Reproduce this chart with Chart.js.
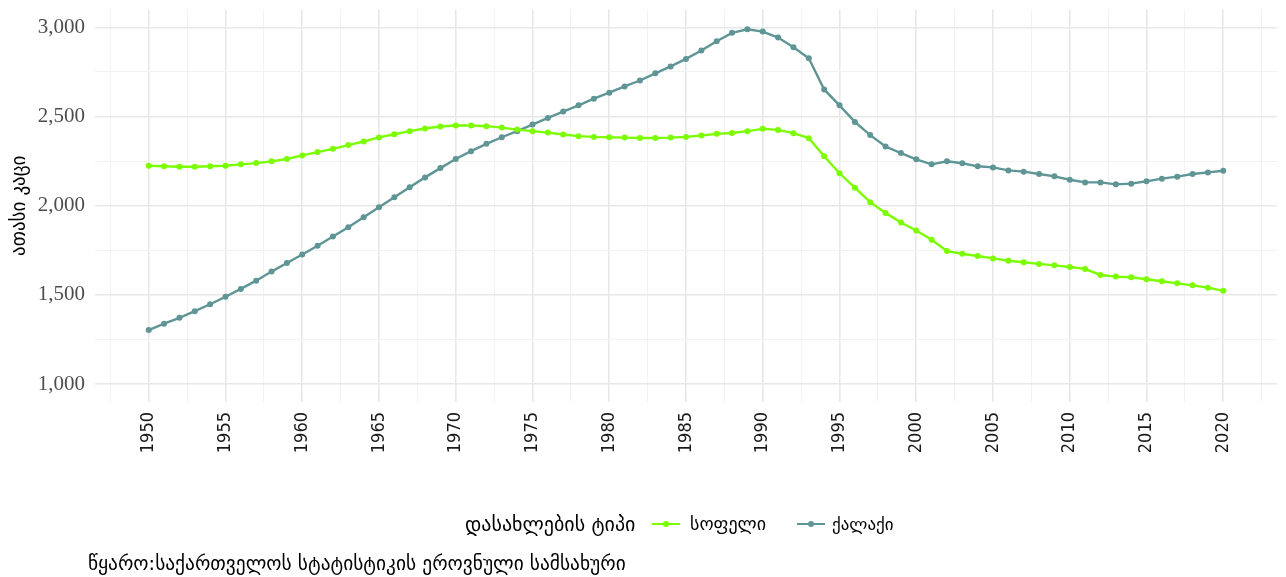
<!DOCTYPE html>
<html>
<head>
<meta charset="utf-8">
<script src="https://cdn.jsdelivr.net/npm/chart.js@4"></script>
<style>
body{margin:0;background:#fff;}
#wrap{position:relative;width:1286px;height:577px;}
.lg{position:absolute;top:511px;height:26px;line-height:26px;font-family:"DejaVu Sans";font-size:18px;color:#000;white-space:nowrap;}
.mk{position:absolute;top:519px;width:28px;height:10px;}
.mk .ln{position:absolute;left:0;top:4px;width:28px;height:2.4px;}
.mk .dt{position:absolute;left:11px;top:2px;width:6px;height:6px;border-radius:3px;}
#caption{position:absolute;left:88px;top:552px;font-family:"DejaVu Sans";font-size:19.4px;color:#000;white-space:nowrap;}
</style>
</head>
<body>
<div id="wrap">
  <canvas id="myChart" width="1286" height="577"></canvas>
  <span class="lg" style="left:465px;font-size:20px">დასახლების ტიპი</span>
  <span class="mk" style="left:652px"><span class="ln" style="background:#7CFC00"></span><span class="dt" style="background:#7CFC00"></span></span>
  <span class="lg" style="left:690px">სოფელი</span>
  <span class="mk" style="left:797px"><span class="ln" style="background:#5F9595"></span><span class="dt" style="background:#5F9595"></span></span>
  <span class="lg" style="left:832px;font-size:17px">ქალაქი</span>
  <div id="caption">წყარო:საქართველოს სტატისტიკის ეროვნული სამსახური</div>
</div>
<script>
const years=[1950,1951,1952,1953,1954,1955,1956,1957,1958,1959,
  1960,1961,1962,1963,1964,1965,1966,1967,1968,1969,
  1970,1971,1972,1973,1974,1975,1976,1977,1978,1979,
  1980,1981,1982,1983,1984,1985,1986,1987,1988,1989,
  1990,1991,1992,1993,1994,1995,1996,1997,1998,1999,
  2000,2001,2002,2003,2004,2005,2006,2007,2008,2009,
  2010,2011,2012,2013,2014,2015,2016,2017,2018,2019,2020]
// სოფელი
const rural=[2224,2221,2219,2219,2221,2224,2232,2239,2249,2262,
  2282,2301,2319,2340,2360,2383,2401,2418,2433,2444,
  2450,2450,2446,2438,2427,2418,2410,2399,2390,2386,
  2384,2382,2380,2380,2382,2386,2394,2403,2408,2418,
  2431,2425,2407,2379,2277,2182,2101,2020,1960,1906,
  1861,1809,1746,1731,1718,1705,1692,1683,1674,1666,
  1657,1646,1612,1603,1599,1588,1577,1565,1554,1541,1523]
// ქალაქი
const urban=[1303,1339,1372,1409,1448,1490,1534,1580,1631,1679,
  1727,1776,1828,1880,1936,1992,2048,2104,2159,2211,
  2262,2306,2347,2384,2418,2455,2492,2528,2563,2600,
  2634,2669,2702,2742,2781,2823,2870,2922,2969,2989,
  2976,2943,2888,2827,2652,2563,2470,2396,2332,2295,
  2260,2232,2249,2238,2221,2215,2198,2191,2178,2165,
  2146,2131,2131,2120,2124,2137,2152,2163,2178,2187,2196]
const xTickLabels=[1950,1955,1960,1965,1970,1975,1980,1985,1990,1995,2000,2005,2010,2015,2020]
const yTickLabels=[1000,1500,2000,2500,3000]
const xGrid=[1947.5,1952.5,1957.5,1962.5,1967.5,1972.5,1977.5,1982.5,1987.5,1992.5,1997.5,2002.5,2007.5,2012.5,2017.5,2022.5]
const yGrid=[1250,1750,2250,2750]

const green="#7CFC00"
const teal="#5F9595"

function pts(vals){
  return years.map((y,i)=>({x:y,y:vals[i]}))
}
function isMajor(v,list){return list.indexOf(v)>=0}

new Chart(document.getElementById("myChart"),{
  type:"line",
  data:{
    datasets:[
      {label:"სოფელი",data:pts(rural),borderColor:green,backgroundColor:green,borderWidth:2.4,pointRadius:3,pointHoverRadius:3,pointBorderWidth:0,tension:0},
      {label:"ქალაქი",data:pts(urban),borderColor:teal,backgroundColor:teal,borderWidth:2.4,pointRadius:3,pointHoverRadius:3,pointBorderWidth:0,tension:0}
    ]
  },
  options:{
    responsive:false,
    animation:false,
    layout:{padding:{left:0,right:9,top:9.5,bottom:100}},
    plugins:{legend:{display:false},tooltip:{enabled:false}},
    scales:{
      x:{
        type:"linear",min:1946.5,max:2023.5,
        afterBuildTicks:(s)=>{s.ticks=xTickLabels.concat(xGrid).sort((a,b)=>a-b).map(v=>({value:v}))},
        afterFit:(s)=>{s.height=75;s.paddingLeft=0;s.paddingRight=0},
        border:{display:false},
        grid:{drawTicks:false,color:(c)=>isMajor(c.tick&&c.tick.value,xTickLabels)?"#e8e8e8":"#f2f2f2",lineWidth:(c)=>isMajor(c.tick&&c.tick.value,xTickLabels)?1.6:1},
        ticks:{autoSkip:false,minRotation:90,maxRotation:90,padding:10,color:"#1a1a1a",
          font:{family:"'DejaVu Sans Condensed','DejaVu Sans'",size:18},
          callback:(v)=>isMajor(v,xTickLabels)?String(v):""}
      },
      y:{
        min:900,max:3100,
        afterBuildTicks:(s)=>{s.ticks=yTickLabels.concat(yGrid).sort((a,b)=>a-b).map(v=>({value:v}))},
        afterFit:(s)=>{s.width=95;s.paddingTop=0;s.paddingBottom=0},
        border:{display:false},
        grid:{drawTicks:false,color:(c)=>isMajor(c.tick&&c.tick.value,yTickLabels)?"#e8e8e8":"#f2f2f2",lineWidth:(c)=>isMajor(c.tick&&c.tick.value,yTickLabels)?1.6:1},
        title:{display:true,text:"ათასი კაცი",color:"#000",font:{family:"'DejaVu Sans'",size:19},padding:{top:9,bottom:0}},
        ticks:{padding:10,color:"#4d4d4d",font:{family:"'Liberation Serif'",size:21},
          callback:(v)=>isMajor(v,yTickLabels)?v.toLocaleString("en-US"):""}
      }
    }
  }
})
</script>
</body>
</html>
